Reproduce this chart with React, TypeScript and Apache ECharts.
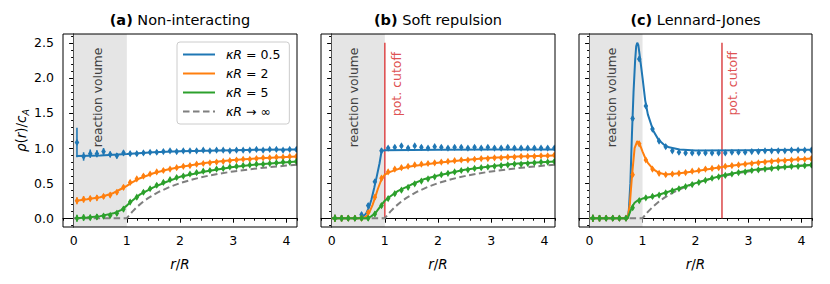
import React, { useEffect, useRef } from "react";
import * as echarts from "echarts";

// ---------- data ----------
const R_BINS = [0.0625, 0.1875, 0.3125, 0.4375, 0.5625, 0.6875, 0.8125, 0.9375, 1.0625, 1.1875, 1.3125, 1.4375, 1.5625, 1.6875, 1.8125, 1.9375, 2.0625, 2.1875, 2.3125, 2.4375, 2.5625, 2.6875, 2.8125, 2.9375, 3.0625, 3.1875, 3.3125, 3.4375, 3.5625, 3.6875, 3.8125, 3.9375, 4.0625, 4.1875];

const SERIES_NAMES = ["κR = 0.5", "κR = 2", "κR = 5"];
const INF_NAME = "κR → ∞";

const ERR_COMMON = [0.05, 0.045, 0.04, 0.04, 0.035, 0.035, 0.035, 0.035, 0.03, 0.03, 0.03, 0.03, 0.03, 0.03, 0.025, 0.025, 0.025, 0.025, 0.025, 0.025, 0.025, 0.025, 0.025, 0.025, 0.025, 0.025, 0.025, 0.025, 0.025, 0.025, 0.025, 0.025, 0.025, 0.025];
const A_ERR_05 = [0.21, 0.06, 0.06, 0.05, 0.05, 0.04, 0.04, 0.035, 0.03, 0.03, 0.03, 0.03, 0.03, 0.025, 0.025, 0.025, 0.025, 0.025, 0.025, 0.025, 0.025, 0.025, 0.025, 0.025, 0.025, 0.025, 0.025, 0.025, 0.025, 0.025, 0.025, 0.025, 0.025, 0.025];

// (a) non-interacting: simulation
const A_SIM_05 = [1.08, 0.88, 0.92, 0.92, 0.95, 0.91, 0.89, 0.93, 0.92, 0.92, 0.93, 0.94, 0.94, 0.95, 0.96, 0.95, 0.96, 0.96, 0.96, 0.97, 0.96, 0.97, 0.97, 0.96, 0.97, 0.97, 0.97, 0.98, 0.97, 0.98, 0.98, 0.97, 0.98, 0.98];
const A_SIM_2 = [0.25, 0.27, 0.28, 0.29, 0.31, 0.33, 0.37, 0.44, 0.51, 0.56, 0.60, 0.63, 0.66, 0.68, 0.70, 0.72, 0.74, 0.75, 0.77, 0.78, 0.79, 0.80, 0.81, 0.82, 0.83, 0.84, 0.84, 0.85, 0.86, 0.86, 0.87, 0.87, 0.88, 0.88];
const A_SIM_5 = [0.0, 0.01, 0.01, 0.02, 0.03, 0.04, 0.07, 0.13, 0.23, 0.30, 0.37, 0.42, 0.47, 0.51, 0.55, 0.58, 0.60, 0.63, 0.65, 0.67, 0.68, 0.70, 0.71, 0.73, 0.74, 0.75, 0.76, 0.77, 0.77, 0.78, 0.79, 0.80, 0.80, 0.81];
// (a) theory
const A_TH_05 = [[0.05, 0.885], [0.5, 0.895], [1.0, 0.915], [1.5, 0.94], [2.0, 0.955], [2.5, 0.963], [3.0, 0.97], [3.5, 0.975], [4.2, 0.98]];
const A_TH_2 = [[0.05, 0.25], [0.25, 0.27], [0.5, 0.3], [0.75, 0.36], [0.9, 0.42], [1.0, 0.46], [1.1, 0.51], [1.25, 0.57], [1.5, 0.64], [1.75, 0.69], [2.0, 0.73], [2.5, 0.79], [3.0, 0.83], [3.5, 0.855], [4.2, 0.88]];
const A_TH_5 = [[0.05, 0.0], [0.25, 0.01], [0.5, 0.03], [0.75, 0.07], [0.9, 0.12], [1.0, 0.18], [1.1, 0.25], [1.25, 0.34], [1.5, 0.44], [1.75, 0.52], [2.0, 0.59], [2.5, 0.67], [3.0, 0.73], [3.5, 0.77], [4.2, 0.81]];

// (b) soft repulsion
const B_SIM_05 = [0, 0, 0, 0, 0.05, 0.18, 0.52, 0.96, 1.0, 1.01, 1.03, 1.0, 1.03, 1.01, 1.0, 1.02, 1.01, 1.0, 1.01, 1.01, 1.0, 1.01, 1.0, 1.01, 1.0, 1.0, 1.01, 1.0, 1.0, 1.0, 1.0, 1.0, 1.0, 1.0];
const B_SIM_2 = [0, 0, 0, 0, 0, 0.08, 0.3, 0.57, 0.66, 0.7, 0.72, 0.74, 0.76, 0.77, 0.78, 0.79, 0.8, 0.81, 0.82, 0.83, 0.83, 0.84, 0.85, 0.85, 0.86, 0.86, 0.87, 0.87, 0.88, 0.88, 0.88, 0.89, 0.89, 0.9];
const B_SIM_5 = [0, 0, 0, 0, 0, 0, 0.06, 0.18, 0.28, 0.35, 0.4, 0.44, 0.49, 0.53, 0.56, 0.59, 0.62, 0.64, 0.66, 0.68, 0.69, 0.71, 0.72, 0.73, 0.74, 0.75, 0.76, 0.77, 0.77, 0.78, 0.79, 0.8, 0.8, 0.81];
const B_TH_05 = [[0, 0], [0.5, 0], [0.55, 0.01], [0.6, 0.03], [0.65, 0.07], [0.7, 0.15], [0.75, 0.27], [0.8, 0.43], [0.85, 0.6], [0.9, 0.78], [0.94, 0.96], [1.0, 0.97], [2.0, 0.975], [3.0, 0.978], [4.2, 0.98]];
const B_TH_2 = [[0, 0], [0.55, 0], [0.62, 0.01], [0.67, 0.04], [0.72, 0.1], [0.77, 0.19], [0.82, 0.3], [0.87, 0.42], [0.92, 0.52], [0.96, 0.58], [1.0, 0.62], [1.1, 0.66], [1.25, 0.7], [1.5, 0.74], [2.0, 0.79], [2.5, 0.83], [3.0, 0.86], [3.5, 0.88], [4.2, 0.895]];
const B_TH_5 = [[0, 0], [0.65, 0], [0.7, 0.01], [0.75, 0.03], [0.8, 0.06], [0.85, 0.1], [0.9, 0.15], [1.0, 0.25], [1.1, 0.31], [1.25, 0.39], [1.5, 0.48], [1.75, 0.56], [2.0, 0.61], [2.5, 0.69], [3.0, 0.74], [3.5, 0.78], [4.2, 0.81]];

// (c) Lennard-Jones
const C_SIM_05 = [0, 0, 0, 0, 0, 0, 1.42, 2.27, 1.6, 1.27, 1.1, 1.02, 0.96, 0.94, 0.93, 0.93, 0.93, 0.93, 0.93, 0.93, 0.93, 0.94, 0.94, 0.94, 0.95, 0.95, 0.96, 0.96, 0.96, 0.96, 0.97, 0.97, 0.97, 0.97];
const C_SIM_2 = [0, 0, 0, 0, 0, 0, 0.62, 1.06, 0.83, 0.7, 0.64, 0.62, 0.63, 0.64, 0.65, 0.67, 0.68, 0.7, 0.71, 0.72, 0.74, 0.75, 0.76, 0.77, 0.78, 0.79, 0.8, 0.81, 0.82, 0.82, 0.83, 0.84, 0.84, 0.85];
const C_SIM_5 = [0, 0, 0, 0, 0, 0, 0.15, 0.25, 0.29, 0.31, 0.33, 0.36, 0.39, 0.42, 0.45, 0.48, 0.51, 0.54, 0.57, 0.59, 0.61, 0.63, 0.65, 0.66, 0.68, 0.69, 0.7, 0.71, 0.72, 0.73, 0.74, 0.74, 0.75, 0.76];
const C_TH_05 = [[0, 0], [0.72, 0], [0.74, 0.1], [0.77, 0.5], [0.8, 1.2], [0.83, 1.8], [0.86, 2.25], [0.88, 2.45], [0.9, 2.5], [0.92, 2.47], [0.95, 2.3], [1.0, 2.0], [1.05, 1.68], [1.1, 1.48], [1.2, 1.25], [1.3, 1.12], [1.4, 1.05], [1.5, 1.01], [1.7, 0.98], [2.0, 0.965], [3.0, 0.97], [4.2, 0.975]];
const C_TH_2 = [[0, 0], [0.72, 0], [0.76, 0.2], [0.8, 0.6], [0.85, 1.0], [0.9, 1.1], [0.95, 1.05], [1.0, 0.95], [1.05, 0.86], [1.1, 0.79], [1.2, 0.7], [1.3, 0.65], [1.4, 0.63], [1.5, 0.625], [1.7, 0.64], [2.0, 0.67], [2.5, 0.73], [3.0, 0.78], [3.5, 0.82], [4.2, 0.85]];
const C_TH_5 = [[0, 0], [0.72, 0], [0.76, 0.08], [0.8, 0.16], [0.85, 0.22], [0.9, 0.25], [1.0, 0.28], [1.2, 0.31], [1.5, 0.38], [2.0, 0.5], [2.5, 0.61], [3.0, 0.68], [3.5, 0.72], [4.2, 0.76]];

// kappa R -> infinity limit (all panels)
const INF_LIMIT = [[0, 0], [1, 0], [1.1, 0.091], [1.2, 0.167], [1.3, 0.231], [1.4, 0.286], [1.5, 0.333], [1.6, 0.375], [1.8, 0.444], [2, 0.5], [2.25, 0.556], [2.5, 0.6], [2.75, 0.636], [3, 0.667], [3.5, 0.714], [4, 0.75], [4.2, 0.762]];

const REACTION_VOLUME = [0, 1];
const CUTOFF_B = [[1, 0], [1, 2.5]];
const CUTOFF_C = [[2.5, 0], [2.5, 2.5]];

const TITLES = [["(a)", "Non-interacting"], ["(b)", "Soft repulsion"], ["(c)", "Lennard-Jones"]];

const X_MAJOR = [0, 1, 2, 3, 4];
const X_MINOR = [-0.2, 0.2, 0.4, 0.6, 0.8, 1.2, 1.4, 1.6, 1.8, 2.2, 2.4, 2.6, 2.8, 3.2, 3.4, 3.6, 3.8, 4.2];
const Y_MAJOR = [0, 0.5, 1.0, 1.5, 2.0, 2.5];
const Y_MINOR = [-0.1, 0.1, 0.2, 0.3, 0.4, 0.6, 0.7, 0.8, 0.9, 1.1, 1.2, 1.3, 1.4, 1.6, 1.7, 1.8, 1.9, 2.1, 2.2, 2.3, 2.4, 2.6];

// ---------- style / layout ----------
const FONT = "DejaVu Sans";
const COLORS = ["#1f77b4", "#ff7f0e", "#2ca02c"];
const C_GRAY = "#7f7f7f";
const C_RED = "#de5253";
const SHADE = "#e5e5e5";
const PANEL_LEFT = [63, 321, 579];
const PANEL_WIDTH = [234, 234, 233];
const PANEL_TOP = 34;
const PANEL_HEIGHT = 193;
const X_RANGE = [-0.2, 4.2];
const Y_RANGE = [-0.125, 2.625];
const RV_TEXT_X = [0.45, 0.42, 0.42];
const RV_TEXT_TOP = 2.43;
const CUTOFF_TEXT: Record<number, number[]> = { 1: [1.22, 2.37], 2: [2.7, 2.38] };

const PANELS = [
  { th: [A_TH_05, A_TH_2, A_TH_5], sim: [A_SIM_05, A_SIM_2, A_SIM_5], err: [A_ERR_05, ERR_COMMON, ERR_COMMON], cutoff: null as number[][] | null },
  { th: [B_TH_05, B_TH_2, B_TH_5], sim: [B_SIM_05, B_SIM_2, B_SIM_5], err: [ERR_COMMON, ERR_COMMON, ERR_COMMON], cutoff: CUTOFF_B },
  { th: [C_TH_05, C_TH_2, C_TH_5], sim: [C_SIM_05, C_SIM_2, C_SIM_5], err: [ERR_COMMON, ERR_COMMON, ERR_COMMON], cutoff: CUTOFF_C },
];

function errRender(color: string) {
  return (params: any, api: any) => {
    const x = api.value(0);
    const y = api.value(1);
    const e = api.value(2);
    const p = api.coord([x, y]);
    const lo = api.coord([x, y - e]);
    const hi = api.coord([x, y + e]);
    const hw = 2.3;
    const hh = 3.6;
    return {
      type: "group",
      children: [
        { type: "line", shape: { x1: p[0], y1: lo[1], x2: p[0], y2: hi[1] }, style: { stroke: color, lineWidth: 1.6 } },
        {
          type: "polygon",
          shape: { points: [[p[0], p[1] - hh], [p[0] + hw, p[1]], [p[0], p[1] + hh], [p[0] - hw, p[1]]] },
          style: { fill: color },
        },
      ],
    };
  };
}

function buildOption() {
  const grid: any[] = [];
  const xAxis: any[] = [];
  const yAxis: any[] = [];
  const series: any[] = [];
  const tickStyle = { color: "#000", width: 1 };

  PANELS.forEach((pn, k) => {
    grid.push({ left: PANEL_LEFT[k], top: PANEL_TOP, width: PANEL_WIDTH[k], height: PANEL_HEIGHT, containLabel: false });
    xAxis.push({
      type: "value", gridIndex: k, min: X_RANGE[0], max: X_RANGE[1],
      axisLine: { show: true, lineStyle: tickStyle },
      axisTick: { show: true, customValues: X_MAJOR, length: 4.5, lineStyle: tickStyle },
      axisLabel: { show: true, customValues: X_MAJOR, color: "#000", fontSize: 12.5, fontFamily: FONT, margin: 7 },
      splitLine: { show: false },
      name: "{i|r}/{i|R}", nameLocation: "middle", nameGap: 30,
      nameTextStyle: { color: "#000", fontSize: 13.5, fontFamily: FONT, rich: { i: { fontStyle: "italic", fontSize: 13.5, fontFamily: FONT, color: "#000" } } },
    });
    yAxis.push({
      type: "value", gridIndex: k, min: Y_RANGE[0], max: Y_RANGE[1],
      axisLine: { show: true, lineStyle: tickStyle },
      axisTick: { show: true, customValues: Y_MAJOR, length: 4.5, lineStyle: tickStyle },
      axisLabel: { show: k === 0, customValues: Y_MAJOR, formatter: (v: number) => v.toFixed(1), color: "#000", fontSize: 12.5, fontFamily: FONT, margin: 9 },
      splitLine: { show: false },
      name: k === 0 ? "{i|ρ}({i|r})/{i|c}{s|A}" : "",
      nameLocation: "middle", nameRotate: 90, nameGap: 32,
      nameTextStyle: {
        color: "#000", fontSize: 13.5, fontFamily: FONT, lineHeight: 18,
        rich: {
          i: { fontStyle: "italic", fontSize: 13.5, fontFamily: FONT, color: "#000", lineHeight: 18 },
          s: { fontStyle: "italic", fontSize: 9.5, fontFamily: FONT, color: "#000", lineHeight: 10, verticalAlign: "bottom" },
        },
      },
    });
  });
  // minor tick axes
  PANELS.forEach((pn, k) => {
    xAxis.push({
      type: "value", gridIndex: k, min: X_RANGE[0], max: X_RANGE[1], position: "bottom",
      axisLine: { show: false }, axisLabel: { show: false }, splitLine: { show: false },
      axisTick: { show: true, customValues: X_MINOR, length: 2.5, lineStyle: tickStyle },
    });
    yAxis.push({
      type: "value", gridIndex: k, min: Y_RANGE[0], max: Y_RANGE[1], position: "left",
      axisLine: { show: false }, axisLabel: { show: false }, splitLine: { show: false },
      axisTick: { show: true, customValues: Y_MINOR, length: 2.5, lineStyle: tickStyle },
    });
  });

  PANELS.forEach((pn, k) => {
    series.push({
      type: "line", name: "_shade" + k, xAxisIndex: k, yAxisIndex: k, data: [], silent: true, z: 1,
      markArea: { silent: true, itemStyle: { color: SHADE, opacity: 1 }, data: [[{ xAxis: REACTION_VOLUME[0] }, { xAxis: REACTION_VOLUME[1] }]] },
    });
    if (pn.cutoff) {
      series.push({
        type: "line", name: "_cutoff" + k, xAxisIndex: k, yAxisIndex: k, data: pn.cutoff, symbol: "none", silent: true, z: 2,
        lineStyle: { color: C_RED, width: 1.6 },
      });
    }
    series.push({
      type: "line", name: INF_NAME, xAxisIndex: k, yAxisIndex: k, data: INF_LIMIT, symbol: "none", showSymbol: false, z: 3,
      lineStyle: { color: C_GRAY, width: 2, type: [6.5, 3.5] }, itemStyle: { color: C_GRAY },
    });
    for (let j = 0; j < 3; j++) {
      series.push({
        type: "line", name: SERIES_NAMES[j], xAxisIndex: k, yAxisIndex: k, data: pn.th[j], symbol: "none", showSymbol: false, z: 4 + 2 * j,
        lineStyle: { color: COLORS[j], width: 2 }, itemStyle: { color: COLORS[j] },
      });
      series.push({
        type: "custom", name: "sim " + SERIES_NAMES[j], xAxisIndex: k, yAxisIndex: k, z: 5 + 2 * j, clip: true,
        data: R_BINS.map((r, i) => [r, pn.sim[j][i], pn.err[j][i]]),
        encode: { x: 0, y: 1 },
        renderItem: errRender(COLORS[j]),
      });
    }
  });

  return {
    animation: false,
    backgroundColor: "#fff",
    textStyle: { fontFamily: FONT },
    grid, xAxis, yAxis, series,
    legend: {
      data: [...SERIES_NAMES, INF_NAME],
      icon: "inherit",
      orient: "vertical", left: 177, top: 42,
      itemWidth: 32, itemHeight: 14, itemGap: 6,
      padding: [6, 9, 6, 5],
      backgroundColor: "rgba(255,255,255,0.8)", borderColor: "#cccccc", borderWidth: 1, borderRadius: 3,
      itemStyle: { opacity: 0 },
      formatter: (n: string) => "{i|κR}" + n.slice(2),
      textStyle: {
        fontSize: 12.5, fontFamily: FONT, color: "#000", padding: [0, 0, 0, 6],
        rich: { i: { fontStyle: "italic", fontSize: 12.5, fontFamily: FONT, color: "#000" } },
      },
    },
  };
}

export default function App() {
  const ref = useRef<HTMLDivElement>(null);
  useEffect(() => {
    const el = ref.current;
    if (!el) return;
    const chart = echarts.init(el, undefined, { renderer: "svg" });
    chart.setOption(buildOption());
    const g: any[] = [];
    PANELS.forEach((pn, k) => {
      const cx = PANEL_LEFT[k] + PANEL_WIDTH[k] / 2;
      g.push({
        type: "text", x: cx, y: 20, z: 100,
        style: {
          text: "{b|" + TITLES[k][0] + "} " + TITLES[k][1],
          rich: { b: { fontWeight: "bold", fontSize: 14.5, fontFamily: FONT, fill: "#000" } },
          fontSize: 14.5, fontFamily: FONT, fill: "#000", align: "center", verticalAlign: "middle",
        },
      });
      g.push({
        type: "rect", z: 100, silent: true,
        shape: { x: PANEL_LEFT[k], y: PANEL_TOP, width: PANEL_WIDTH[k], height: PANEL_HEIGHT },
        style: { fill: "none", stroke: "#000", lineWidth: 1 },
      });
      const rv = chart.convertToPixel({ xAxisIndex: k, yAxisIndex: k } as any, [RV_TEXT_X[k], RV_TEXT_TOP]) as number[];
      g.push({
        type: "text", x: rv[0], y: rv[1], rotation: Math.PI / 2, z: 50,
        style: { text: "reaction volume", fontSize: 12.3, fontFamily: FONT, fill: "#404040", align: "right", verticalAlign: "middle" },
      });
      if (CUTOFF_TEXT[k]) {
        const ct = chart.convertToPixel({ xAxisIndex: k, yAxisIndex: k } as any, CUTOFF_TEXT[k]) as number[];
        g.push({
          type: "text", x: ct[0], y: ct[1], rotation: Math.PI / 2, z: 50,
          style: { text: "pot. cutoff", fontSize: 12.5, fontFamily: FONT, fill: C_RED, align: "right", verticalAlign: "middle" },
        });
      }
    });
    chart.setOption({ graphic: g });
    return () => chart.dispose();
  }, []);
  return <div ref={ref} style={{ position: "fixed", left: 0, top: 0, width: 830, height: 284 }} />;
}
